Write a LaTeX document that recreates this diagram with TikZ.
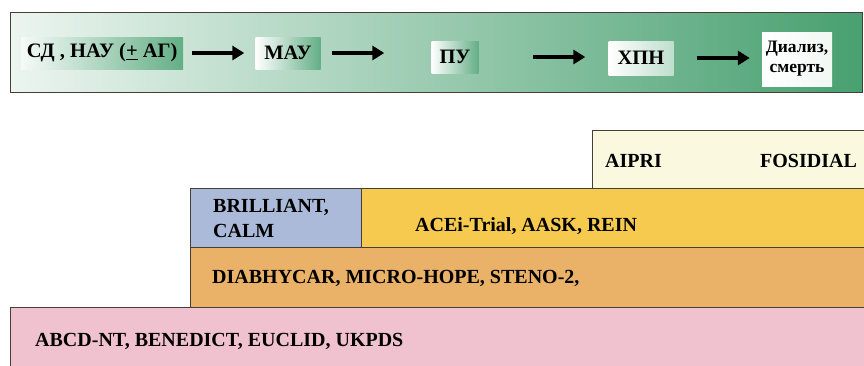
\documentclass[tikz,border=0pt]{standalone}
\usepackage{fontspec}
\setmainfont{Liberation Serif}
\definecolor{stagepale}{RGB}{236,245,240}
\definecolor{stagegreen}{RGB}{72,160,112}
\definecolor{linegray}{RGB}{70,62,55}
\definecolor{trialpink}{RGB}{240,194,208}
\definecolor{trialorange}{RGB}{233,178,104}
\definecolor{trialyellow}{RGB}{246,202,78}
\definecolor{trialblue}{RGB}{170,186,216}
\definecolor{trialcream}{RGB}{250,248,222}
\usetikzlibrary{arrows.meta,positioning,calc}

\begin{document}
\begin{tikzpicture}[
      x=1pt,
      y=-1pt,
      font=\fontsize{20.5}{21}\selectfont\bfseries,
      stage/.style={inner sep=3pt, align=center,
        left color=white, right color=stagegreen!85},
      bar/.style={draw=linegray, line width=1pt, anchor=north west,
        inner sep=0pt},
      study/.style={font=\fontsize{20}{25}\selectfont\bfseries, align=left,
        inner sep=0pt, anchor=west},
      arrow/.style={-{Triangle[length=12pt,width=14pt]}, line width=4pt, black}
    ]
    \useasboundingbox (0,0) rectangle (864,365);

    % disease stages
    \node[draw=linegray, line width=1.2pt, anchor=north west,
      minimum width=852pt, minimum height=80pt,
      left color=stagepale, right color=stagegreen] (stages) at (10,12) {};

    \node[stage, anchor=west, minimum width=162pt, minimum height=32pt,
      inner xsep=1pt, left color=stagepale!50!white] (sd) at (21,53)
      {СД , НАУ (\underline{+} АГ)};
    \node[stage, minimum width=65pt, minimum height=32pt] (mau) at (288,53) {МАУ};
    \node[stage, minimum width=47pt, minimum height=32pt] (pu) at (455,57) {ПУ};
    \node[stage, minimum width=65pt, minimum height=34pt,
      right color=white!65!stagegreen] (xpn) at (641,58) {ХПН};
    \node[stage, minimum width=70pt, minimum height=54pt, inner xsep=1pt,
      left color=white, right color=white!92!stagegreen,
      font=\fontsize{17.5}{20}\selectfont\bfseries] (dial) at (797,59)
      {Диализ,\\смерть};

    \foreach \a/\b/\s/\t in {sd/mau/9/11,mau/pu/11/47,pu/xpn/54/23,xpn/dial/23/12}
      \draw[arrow, shorten <=\s pt, shorten >=\t pt] (\a.east) -- (\a.east -| \b.west);

    % trials stacked by stage
    \node[bar, fill=trialpink, minimum width=858pt, minimum height=61pt]
      (abcd) at (10,307) {};
    \node[bar, fill=trialorange, minimum width=678pt, minimum height=60pt]
      (diab) at (190,247) {};
    \node[bar, fill=trialblue, minimum width=171pt, minimum height=59pt]
      (brill) at (190,188) {};
    \node[bar, fill=trialyellow, minimum width=507pt, minimum height=59pt]
      (acei) at (361,188) {};
    \node[bar, fill=trialcream, minimum width=276pt, minimum height=58pt]
      (aipri) at (592,130) {};

    \node[study, right=25pt of abcd.west, yshift=-3pt] (abcdtxt)
      {ABCD-NT, BENEDICT, EUCLID, UKPDS};
    \node[study, right=22pt of diab.west, yshift=-1pt] (diabtxt)
      {DIABHYCAR, MICRO-HOPE, STENO-2,};
    \node[study, right=23pt of brill.west] (brilltxt) {BRILLIANT,\\CALM};
    \node[study, right=54pt of acei.west, yshift=-8pt] (aceitxt)
      {ACEi-Trial, AASK, REIN};
    \node[study, right=13pt of aipri.west, yshift=-1pt] (aipritxt) {AIPRI};
    \node[study, right=168pt of aipri.west, yshift=-1pt] (fositxt) {FOSIDIAL};
  \end{tikzpicture}
\end{document}
